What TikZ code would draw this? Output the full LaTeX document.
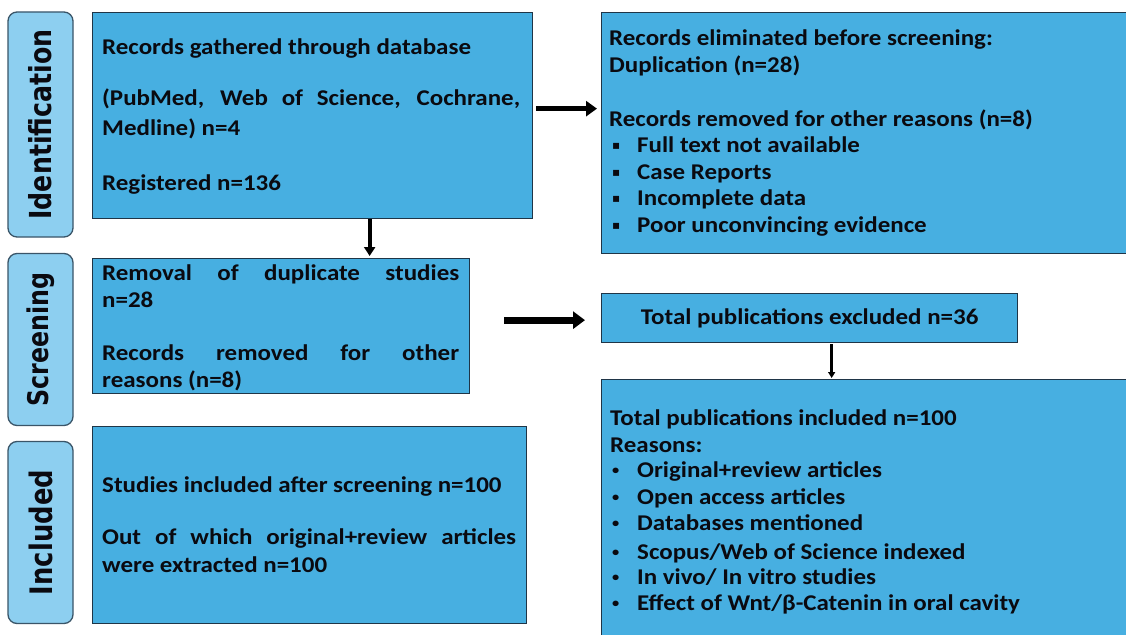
\documentclass[tikz,border=0pt]{standalone}
\usepackage{fontspec}
\setmainfont{Carlito}[FakeStretch=1.11]
\newfontfamily\djv{DejaVu Sans}
\usetikzlibrary{arrows.meta}
\definecolor{boxblue}{HTML}{47AFE1}
\definecolor{lblblue}{HTML}{8DCFF0}
\definecolor{edgec}{HTML}{1F3547}
\definecolor{lbledge}{HTML}{3A5568}
\definecolor{ink}{HTML}{0A0A10}
\newcommand{\lbltxt}[2]{\scalebox{1}[1.2]{\resizebox{#1}{!}{\djv\bfseries #2}}}
\newcommand{\jl}[2]{\makebox[#1][s]{#2}}
\newcommand{\sqb}{\makebox[25pt][l]{\raisebox{2.5pt}{\djv\fontsize{12}{12}\selectfont ▪}}}
\newcommand{\rdb}{\makebox[25pt][l]{\raisebox{2.5pt}{\fontsize{13}{13}\selectfont •}}}
\begin{document}
\begin{tikzpicture}[x=1pt,y=-1pt,
  box/.style={draw=edgec, line width=1.3pt, fill=boxblue, anchor=north west, inner sep=0pt, text=ink,
    font=\fontsize{22.5}{27}\selectfont\bfseries},
  lbl/.style={draw=lbledge, line width=1.3pt, fill=lblblue, rounded corners=9pt, inner sep=0pt, text=ink, rotate=90},
  txt/.style={anchor=base west, inner sep=0pt, text=ink, font=\fontsize{22.5}{27}\selectfont\bfseries},
  arrA/.style={draw=black, line width=5pt, -{Triangle[length=11pt,width=15pt]}},
  arrB/.style={draw=black, line width=4pt, -{Triangle[length=9pt,width=11pt]}},
  arrC/.style={draw=black, line width=7pt, -{Triangle[length=12pt,width=17pt]}},
  arrD/.style={draw=black, line width=2.5pt, -{Triangle[length=6pt,width=7pt]}}]
\useasboundingbox (0,0) rectangle (1126,634);
\fill[white] (0,0) rectangle (1126,634);

% stage labels
\node[lbl, minimum width=225pt, minimum height=65pt] (L1) at (40.5,124.5) {\lbltxt{190pt}{Identification}};
\node[lbl, minimum width=172pt, minimum height=65pt] (L2) at (40.5,339.5) {\lbltxt{134pt}{Screening}};
\node[lbl, minimum width=182pt, minimum height=65pt] (L3) at (40.5,532.5) {\lbltxt{125pt}{Included}};

% boxes
\node[box, minimum width=440pt, minimum height=206pt] (b1) at (92,12) {};
\node[box, minimum width=540pt, minimum height=241pt] (b2) at (601,12) {};
\node[box, minimum width=377pt, minimum height=135pt] (b3) at (92,258) {};
\node[box, minimum width=416pt, minimum height=49pt] (b4) at (601,293) {Total publications excluded n=36};
\node[box, minimum width=540pt, minimum height=270pt] (b5) at (601,379) {};
\node[box, minimum width=434pt, minimum height=197pt] (b6) at (92,426) {};

% box 1 text
\node[txt] (t1a) at (102,55) {Records gathered through database};
\node[txt] (t1b) at (102,105) {\jl{418pt}{(PubMed, Web of Science, Cochrane,}};
\node[txt] (t1c) at (102,135) {Medline) n=4};
\node[txt] (t1d) at (102,190) {Registered n=136};

% box 2 text
\node[txt] (t2a) at (609,46) {Records eliminated before screening:};
\node[txt] (t2b) at (609,73) {Duplication (n=28)};
\node[txt] (t2c) at (609,126) {Records removed for other reasons (n=8)};
\node[txt] (t2d) at (612,152) {\sqb Full text not available};
\node[txt] (t2e) at (612,179) {\sqb Case Reports};
\node[txt] (t2f) at (612,205) {\sqb Incomplete data};
\node[txt] (t2g) at (612,232) {\sqb Poor unconvincing evidence};

% box 3 text
\node[txt] (t3a) at (102,280) {\jl{357pt}{Removal of duplicate studies}};
\node[txt] (t3b) at (102,307) {n=28};
\node[txt] (t3c) at (102,360) {\jl{357pt}{Records removed for other}};
\node[txt] (t3d) at (102,387) {reasons (n=8)};

% box 5 text
\node[txt] (t5a) at (610,425) {Total publications included n=100};
\node[txt] (t5b) at (610,452) {Reasons:};
\node[txt] (t5c) at (612,477) {\rdb Original+review articles};
\node[txt] (t5d) at (612,504) {\rdb Open access articles};
\node[txt] (t5e) at (612,530) {\rdb Databases mentioned};
\node[txt] (t5f) at (612,559) {\rdb Scopus/Web of Science indexed};
\node[txt] (t5g) at (612,584) {\rdb In vivo/ In vitro studies};
\node[txt] (t5h) at (612,610) {\rdb Effect of Wnt/β-Catenin in oral cavity};

% box 6 text
\node[txt] (t6a) at (102,492) {Studies included after screening n=100};
\node[txt] (t6b) at (102,544) {\jl{414pt}{Out of which original+review articles}};
\node[txt] (t6c) at (102,572) {were extracted n=100};

% connectors
\draw[arrA, shorten <=3pt, shorten >=4pt] ([yshift=7pt]b1.east) -- ([yshift=7pt]b1.east -| b2.west);
\draw[arrB, shorten >=2pt] ([xshift=57pt]b1.south) -- ([xshift=57pt]b1.south |- b3.north);
\draw[arrC, shorten <=34pt, shorten >=16pt] ([yshift=6pt]b3.east) -- ([yshift=6pt]b3.east -| b4.west);
\draw[arrD, shorten <=1pt, shorten >=1pt] ([xshift=22pt]b4.south) -- ([xshift=22pt]b4.south |- b5.north);
\end{tikzpicture}
\end{document}
